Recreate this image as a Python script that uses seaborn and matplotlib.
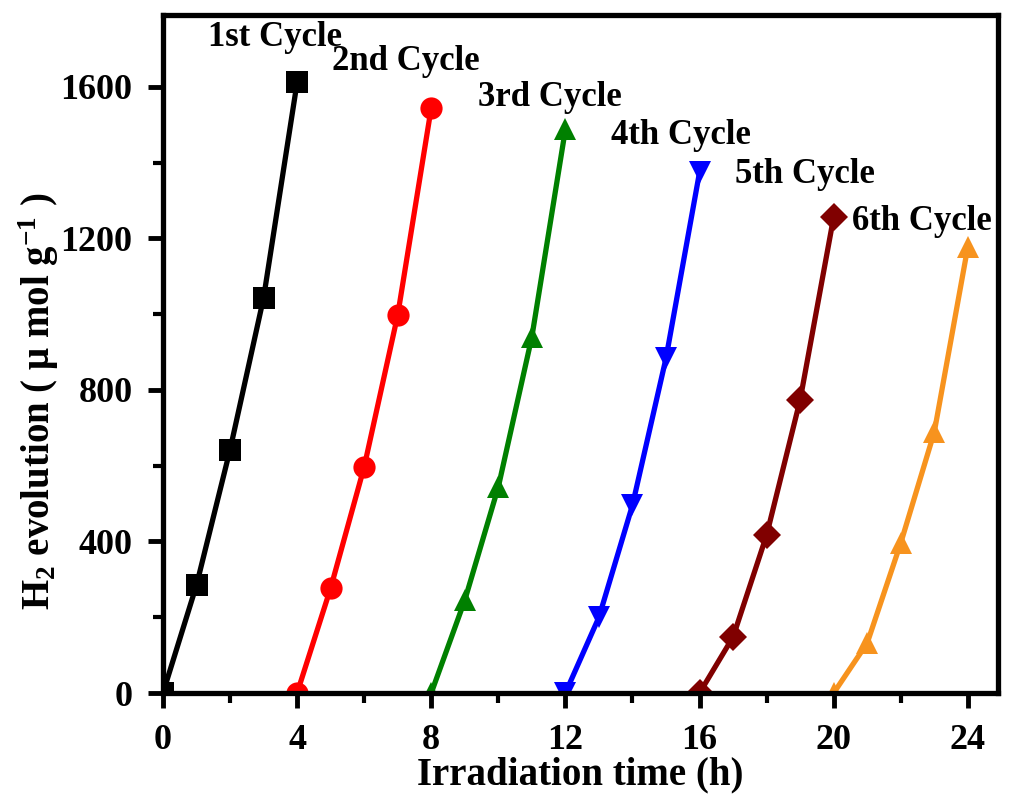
import numpy as np
import pandas as pd
import seaborn as sns
import matplotlib.pyplot as plt
from matplotlib.ticker import MultipleLocator

# irradiation time (h) and H2 evolution (umol/g) per cycle
cycle_names = ["1st Cycle", "2nd Cycle", "3rd Cycle", "4th Cycle", "5th Cycle", "6th Cycle"]
time_1 = [0, 1, 2, 3, 4]
h2_1 = [0, 285, 642, 1043, 1612]
time_2 = [4, 5, 6, 7, 8]
h2_2 = [0, 277, 597, 998, 1545]
time_3 = [8, 9, 10, 11, 12]
h2_3 = [0, 245, 544, 940, 1488]
time_4 = [12, 13, 14, 15, 16]
h2_4 = [0, 200, 496, 884, 1375]
time_5 = [16, 17, 18, 19, 20]
h2_5 = [0, 148, 417, 774, 1257]
time_6 = [20, 21, 22, 23, 24]
h2_6 = [0, 132, 396, 689, 1178]

# label anchor positions (data coords, left-aligned)
label_x = [1.35, 5.05, 9.4, 13.35, 17.05, 20.55]
label_y = [1730, 1666, 1571, 1473, 1368, 1244]

COLORS = ["#000000", "#ff0000", "#008000", "#0000ff", "#800000", "#f7931e"]
MARKERS = ["s", "o", "^", "v", "D", "^"]

sns.set_style("ticks")
plt.rcParams["font.family"] = ["Liberation Serif", "DejaVu Serif"]
plt.rcParams["font.weight"] = "bold"
plt.rcParams["mathtext.fontset"] = "custom"
plt.rcParams["mathtext.rm"] = "Liberation Serif:bold"
plt.rcParams["mathtext.it"] = "Liberation Serif:bold"
plt.rcParams["mathtext.bf"] = "Liberation Serif:bold"
plt.rcParams["text.color"] = "black"
plt.rcParams["axes.labelcolor"] = "black"
plt.rcParams["xtick.color"] = "black"
plt.rcParams["ytick.color"] = "black"
plt.rcParams["axes.edgecolor"] = "black"

times = [time_1, time_2, time_3, time_4, time_5, time_6]
vals = [h2_1, h2_2, h2_3, h2_4, h2_5, h2_6]

fig = plt.figure(figsize=(10.16, 7.94), dpi=100)
ax = fig.add_axes([0.1604, 0.1272, 0.8219, 0.8539])

for i, name in enumerate(cycle_names):
    df = pd.DataFrame({"t": times[i], "h2": vals[i]})
    sns.lineplot(data=df, x="t", y="h2", ax=ax, color=COLORS[i], marker=MARKERS[i],
                 markersize=16 if MARKERS[i] != "D" else 14, markeredgewidth=0,
                 linewidth=3.8, legend=False)
    ax.text(label_x[i], label_y[i], name, fontsize=25, fontweight="bold",
            ha="left", va="center", color="black")

ax.set_xlim(0, 24.9)
ax.set_ylim(0, 1790)
ax.xaxis.set_major_locator(MultipleLocator(4))
ax.xaxis.set_minor_locator(MultipleLocator(2))
ax.yaxis.set_major_locator(MultipleLocator(400))
ax.yaxis.set_minor_locator(MultipleLocator(200))
ax.tick_params(which="major", direction="out", length=11, width=3.5, labelsize=26, pad=11)
ax.tick_params(which="minor", direction="out", length=7, width=3)
for lbl in ax.get_xticklabels() + ax.get_yticklabels():
    lbl.set_fontweight("bold")
for s in ax.spines.values():
    s.set_linewidth(3.8)
    s.set_visible(True)

ax.set_xlabel("Irradiation time (h)", fontsize=28, fontweight="bold", labelpad=0)
ax.set_ylabel(r"H$_2$ evolution ( $\mu$ mol g$^{-1}$ )", fontsize=28, fontweight="bold")
ax.yaxis.set_label_coords(-0.122, 0.43)

fig.savefig("out.png", dpi=100)
